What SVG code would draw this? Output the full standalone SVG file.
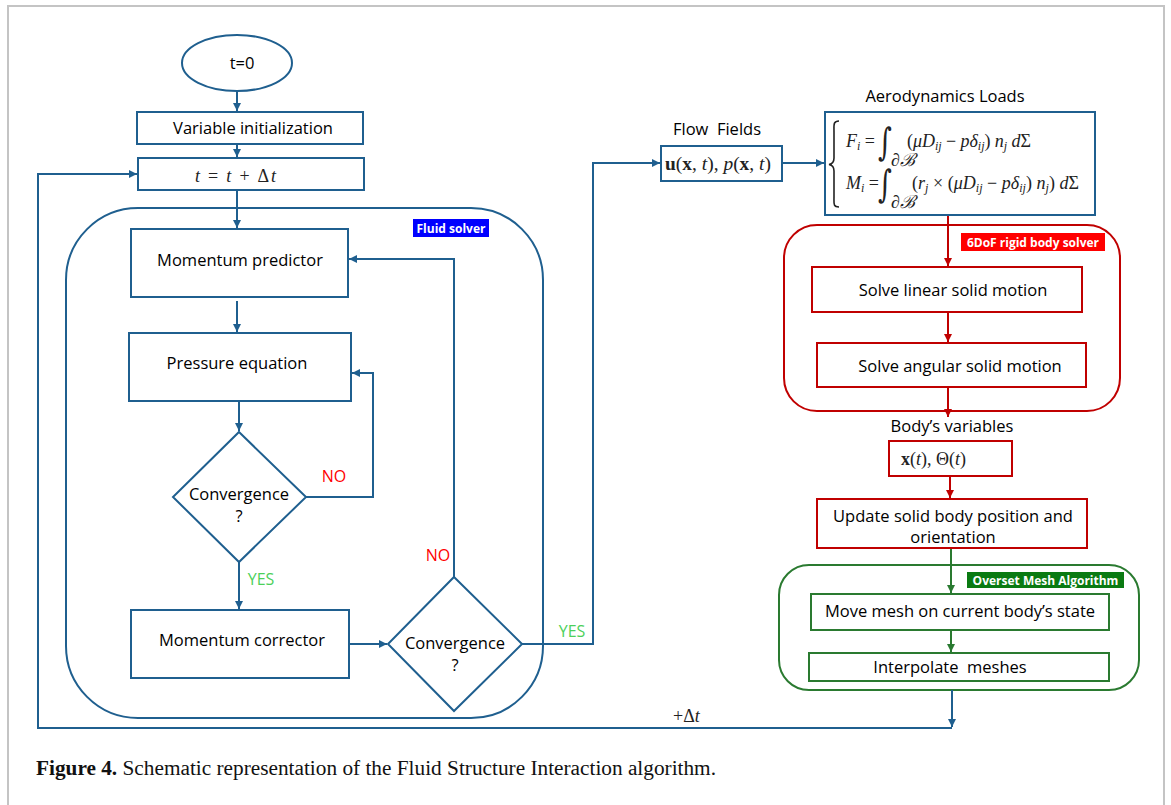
<svg xmlns="http://www.w3.org/2000/svg" width="1171" height="805" viewBox="0 0 1171 805">
<defs>
<style>
.bl{fill:none;stroke:#1f5f8f;stroke-width:2}
.rd{fill:none;stroke:#c00000;stroke-width:2}
.gn{fill:none;stroke:#2a7a30;stroke-width:2}
.box-b{fill:#fff;stroke:#1f5f8f;stroke-width:2}
.box-r{fill:#fff;stroke:#c00000;stroke-width:2}
.box-g{fill:#fff;stroke:#2a7a30;stroke-width:2}
.t{font-family:"Open Sans","Liberation Sans",sans-serif;font-size:16.5px;fill:#000;text-anchor:middle}
.lab{font-family:"Open Sans","Liberation Sans",sans-serif;font-size:12px;font-weight:bold;fill:#fff;text-anchor:middle}
.no{font-family:"Open Sans","Liberation Sans",sans-serif;font-size:16px;fill:#ff0000;text-anchor:middle}
.yes{font-family:"Open Sans","Liberation Sans",sans-serif;font-size:16px;fill:#4cd05a;text-anchor:middle}
.m{font-family:"Liberation Serif","DejaVu Serif",serif;font-size:18px;fill:#222}
.int{font-family:"DejaVu Serif",serif;font-size:38px;fill:#222}
.i{font-style:italic}
.bd{font-weight:bold}
</style>
<marker id="ab" markerUnits="userSpaceOnUse" markerWidth="9" markerHeight="9" refX="8" refY="4" orient="auto"><path d="M0,0 L8,4 L0,8 z" fill="#1f5f8f"/></marker>
<marker id="ar" markerUnits="userSpaceOnUse" markerWidth="9" markerHeight="9" refX="8" refY="4" orient="auto"><path d="M0,0 L8,4 L0,8 z" fill="#c00000"/></marker>
<marker id="ag" markerUnits="userSpaceOnUse" markerWidth="9" markerHeight="9" refX="8" refY="4" orient="auto"><path d="M0,0 L8,4 L0,8 z" fill="#2a7a30"/></marker>
</defs>
<rect width="1171" height="805" fill="#fff"/>
<path d="M8,805 V6 H1164 V805" fill="none" stroke="#c4c4c4" stroke-width="2"/>

<!-- containers -->
<g id="fluid-solver">
<rect x="66" y="208" width="477" height="510" rx="72" ry="72" class="bl"/>
<rect x="413" y="219" width="76" height="18" fill="#0000ff"/>
<text x="451" y="232.5" class="lab">Fluid solver</text>
</g>
<g id="rigid-body-solver">
<rect x="784" y="225" width="336" height="186" rx="33" ry="33" class="rd"/>
<rect x="961" y="233" width="144" height="18" fill="#ff0000"/>
<text x="1033" y="246.5" class="lab">6DoF rigid body solver</text>
</g>
<g id="overset-mesh">
<rect x="779" y="565" width="360" height="125" rx="30" ry="30" class="gn"/>
<rect x="967" y="572" width="157" height="16" fill="#0a7a12"/>
<text x="1045.5" y="584.5" class="lab">Overset Mesh Algorithm</text>
</g>

<!-- connectors -->
<g id="connectors">
<path d="M237,91 V111" class="bl" marker-end="url(#ab)"/>
<path d="M237,144 V157" class="bl" marker-end="url(#ab)"/>
<path d="M237,190 V228" class="bl" marker-end="url(#ab)"/>
<path d="M237,301 V332" class="bl" marker-end="url(#ab)"/>
<path d="M239,401 V431" class="bl" marker-end="url(#ab)"/>
<path d="M306,497 H373 V373 H352" class="bl" marker-end="url(#ab)"/>
<path d="M239,562 V609" class="bl" marker-end="url(#ab)"/>
<path d="M349,644 H387" class="bl" marker-end="url(#ab)"/>
<path d="M454,577 V259 H349" class="bl" marker-end="url(#ab)"/>
<path d="M522,644 H593 V163 H660" class="bl" marker-end="url(#ab)"/>
<path d="M782,163 H824" class="bl" marker-end="url(#ab)"/>
<path d="M948,215 V266" class="rd" marker-end="url(#ar)"/>
<path d="M948,312 V342" class="rd" marker-end="url(#ar)"/>
<path d="M948,387 V417" class="rd" marker-end="url(#ar)"/>
<path d="M950,476 V498" class="rd" marker-end="url(#ar)"/>
<path d="M951,548 V593" class="gn" marker-end="url(#ag)"/>
<path d="M951,630 V652" class="gn" marker-end="url(#ag)"/>
<path d="M952,690 V727" class="bl" marker-end="url(#ab)"/>
<path d="M952,728 H38 V174 H137" class="bl" marker-end="url(#ab)"/>
<text x="334" y="482" class="no">NO</text>
<text x="261" y="585" class="yes">YES</text>
<text x="438" y="561" class="no">NO</text>
<text x="572" y="637" class="yes">YES</text>
<text x="673" y="722" class="m" font-size="19"><tspan>+Δ</tspan><tspan class="i">t</tspan></text>
</g>

<!-- nodes -->
<g id="start">
<ellipse cx="237" cy="63" rx="55" ry="28" class="box-b"/>
<text x="242" y="69" class="t">t=0</text>
</g>
<g id="var-init">
<rect x="137" y="112" width="226" height="32" class="box-b"/>
<text x="253" y="134" class="t">Variable initialization</text>
</g>
<g id="time-step">
<rect x="138" y="158" width="226" height="32" class="box-b"/>
<text x="195" y="182" class="m" font-size="24" textLength="81" lengthAdjust="spacing"><tspan class="i">t</tspan> = <tspan class="i">t</tspan> + Δ<tspan class="i">t</tspan></text>
</g>
<g id="momentum-predictor">
<rect x="131" y="229" width="217" height="68" class="box-b"/>
<text x="240" y="266" class="t">Momentum predictor</text>
</g>
<g id="pressure-equation">
<rect x="129" y="333" width="222" height="68" class="box-b"/>
<text x="237" y="369" class="t">Pressure equation</text>
</g>
<g id="convergence-1">
<polygon points="239,432 306,497 239,562 173,497" class="box-b"/>
<text x="239" y="500" class="t">Convergence</text>
<text x="239" y="522" class="t">?</text>
</g>
<g id="momentum-corrector">
<rect x="131" y="610" width="218" height="68" class="box-b"/>
<text x="242" y="646" class="t">Momentum corrector</text>
</g>
<g id="convergence-2">
<polygon points="454,577 522,644 454,711 388,644" class="box-b"/>
<text x="455" y="649" class="t">Convergence</text>
<text x="455" y="671" class="t">?</text>
</g>
<g id="flow-fields">
<text x="717" y="135" class="t" xml:space="preserve">Flow  Fields</text>
<rect x="661" y="146" width="121" height="35" class="box-b"/>
<text x="665" y="170" class="m" font-size="20" textLength="106" lengthAdjust="spacingAndGlyphs"><tspan class="bd">u</tspan>(<tspan class="bd">x</tspan>, <tspan class="i">t</tspan>), <tspan class="i">p</tspan>(<tspan class="bd">x</tspan>, <tspan class="i">t</tspan>)</text>
</g>
<g id="aero-loads">
<text x="945" y="102" class="t">Aerodynamics Loads</text>
<rect x="825" y="112" width="270" height="103" class="box-b"/>
<path d="M839,121 C833,121 834,125 834,132 L834,158 C834,162 832,164 829,164.5 C832,165 834,167 834,171 L834,197 C834,204 833,207 839,207" fill="none" stroke="#222" stroke-width="1.6"/>
<text x="846" y="147" class="m"><tspan class="i">F</tspan><tspan class="i" font-size="12" dy="3">i</tspan><tspan dy="-3"> =</tspan></text>
<text x="878" y="155" class="int" transform="translate(878,0) scale(0.7,1) translate(-878,0)">∫</text>
<text x="891" y="166" class="m" font-size="11"><tspan class="i">∂ℬ</tspan></text>
<text x="907" y="147" class="m" textLength="124" lengthAdjust="spacing">(<tspan class="i">μD</tspan><tspan class="i" font-size="12" dy="3">ij</tspan><tspan dy="-3"> − </tspan><tspan class="i">pδ</tspan><tspan class="i" font-size="12" dy="3">ij</tspan><tspan dy="-3">) </tspan><tspan class="i">n</tspan><tspan class="i" font-size="12" dy="3">j</tspan><tspan dy="-3"> </tspan><tspan class="i">d</tspan>Σ</text>
<text x="846" y="189" class="m"><tspan class="i">M</tspan><tspan class="i" font-size="12" dy="3">i</tspan><tspan dy="-3"> =</tspan></text>
<text x="878" y="197" class="int" transform="translate(878,0) scale(0.7,1) translate(-878,0)">∫</text>
<text x="891" y="208" class="m" font-size="11"><tspan class="i">∂ℬ</tspan></text>
<text x="912" y="189" class="m" textLength="167" lengthAdjust="spacing">(<tspan class="i">r</tspan><tspan class="i" font-size="12" dy="3">j</tspan><tspan dy="-3"> × (</tspan><tspan class="i">μD</tspan><tspan class="i" font-size="12" dy="3">ij</tspan><tspan dy="-3"> − </tspan><tspan class="i">pδ</tspan><tspan class="i" font-size="12" dy="3">ij</tspan><tspan dy="-3">) </tspan><tspan class="i">n</tspan><tspan class="i" font-size="12" dy="3">j</tspan><tspan dy="-3">) </tspan><tspan class="i">d</tspan>Σ</text>
</g>
<g id="solve-linear">
<rect x="812" y="267" width="270" height="45" class="box-r"/>
<text x="953" y="296" class="t">Solve linear solid motion</text>
</g>
<g id="solve-angular">
<rect x="817" y="343" width="269" height="44" class="box-r"/>
<text x="960" y="372" class="t">Solve angular solid motion</text>
</g>
<g id="body-variables">
<text x="952" y="432" class="t">Body’s variables</text>
<rect x="889" y="441" width="123" height="35" class="box-r"/>
<text x="901" y="465" class="m" font-size="19"><tspan class="bd">x</tspan>(<tspan class="i">t</tspan>), Θ(<tspan class="i">t</tspan>)</text>
</g>
<g id="update-body">
<rect x="817" y="499" width="270" height="49" class="box-r"/>
<text x="953" y="522" class="t">Update solid body position and</text>
<text x="953" y="543" class="t">orientation</text>
</g>
<g id="move-mesh">
<rect x="811" y="594" width="298" height="36" class="box-g"/>
<text x="960" y="617" class="t">Move mesh on current body’s state</text>
</g>
<g id="interpolate">
<rect x="809" y="653" width="300" height="28" class="box-g"/>
<text x="950" y="673" class="t" xml:space="preserve">Interpolate  meshes</text>
</g>

<text x="36" y="775" font-family="'Liberation Serif',serif" font-size="20" fill="#111" textLength="680" lengthAdjust="spacingAndGlyphs"><tspan font-weight="bold">Figure 4.</tspan> Schematic representation of the Fluid Structure Interaction algorithm.</text>
</svg>
